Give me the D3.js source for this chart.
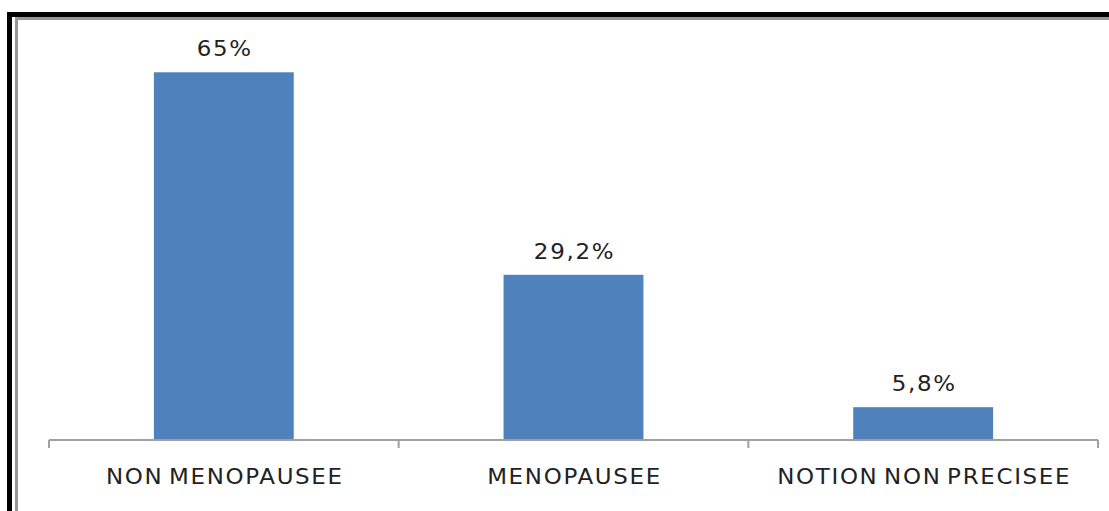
<!DOCTYPE html>
<html>
<head>
<meta charset="utf-8">
<script src="https://cdn.jsdelivr.net/npm/d3@7"></script>
<style>
  html, body { margin: 0; padding: 0; background: #fff; }
  svg { display: block; }
</style>
</head>
<body>
<script>
const categories = ["NON MENOPAUSEE", "MENOPAUSEE", "NOTION NON PRECISEE"];
const values = [65, 29.2, 5.8];
const valueLabels = ["65%", "29,2%", "5,8%"];

const W = 1109, H = 511;
const svg = d3.select("body").append("svg").attr("width", W).attr("height", H);

// frame
svg.append("rect").attr("x", 7).attr("y", 12).attr("width", W - 7).attr("height", 5).attr("fill", "#000");
svg.append("rect").attr("x", 7).attr("y", 12).attr("width", 5).attr("height", H - 12).attr("fill", "#000");
svg.append("rect").attr("x", 15).attr("y", 17).attr("width", W - 15).attr("height", 3).attr("fill", "#959595");
svg.append("rect").attr("x", 15).attr("y", 17).attr("width", 3).attr("height", H - 17).attr("fill", "#959595");

const x = d3.scaleBand().domain(categories).range([49, 1098]).paddingInner(0.6).paddingOuter(0.3);
const y = d3.scaleLinear().domain([0, 70]).range([440, 44]);

const g = svg.append("g");

g.selectAll("rect.bar").data(categories).join("rect")
  .attr("class", "bar")
  .attr("x", d => x(d))
  .attr("width", x.bandwidth())
  .attr("y", (d, i) => y(values[i]))
  .attr("height", (d, i) => y(0) - y(values[i]))
  .attr("fill", "#4F81BD");

// axis with ticks at category boundaries
const step = x.step();
const r = x.range();
const bounds = d3.range(categories.length + 1).map(i => r[0] + i * step);
g.append("line").attr("x1", r[0]).attr("x2", r[1]).attr("y1", y(0)).attr("y2", y(0))
  .attr("stroke", "#A0A0A0").attr("stroke-width", 2);
g.selectAll("line.tick").data(bounds).join("line")
  .attr("class", "tick")
  .attr("x1", d => d).attr("x2", d => d)
  .attr("y1", y(0)).attr("y2", y(0) + 8)
  .attr("stroke", "#A0A0A0").attr("stroke-width", 2);

const font = "'DejaVu Sans', sans-serif";
const sx = 1.12;

function label(sel) {
  sel.attr("text-anchor", "middle")
    .attr("font-family", font)
    .attr("font-size", 20.5)
    .attr("letter-spacing", 1.5)
    .attr("word-spacing", -3)
    .attr("fill", "#222");
}

g.selectAll("g.val").data(categories).join("g")
  .attr("class", "val")
  .attr("transform", (d, i) => `translate(${x(d) + x.bandwidth() / 2 + 1},${y(values[i]) - 16}) scale(${sx},1)`)
  .append("text")
  .call(label)
  .text((d, i) => valueLabels[i]);

g.selectAll("g.cat").data(categories).join("g")
  .attr("class", "cat")
  .attr("transform", d => `translate(${x(d) + x.bandwidth() / 2 + 1},484) scale(${sx},1)`)
  .append("text")
  .call(label)
  .text(d => d);
</script>
</body>
</html>
